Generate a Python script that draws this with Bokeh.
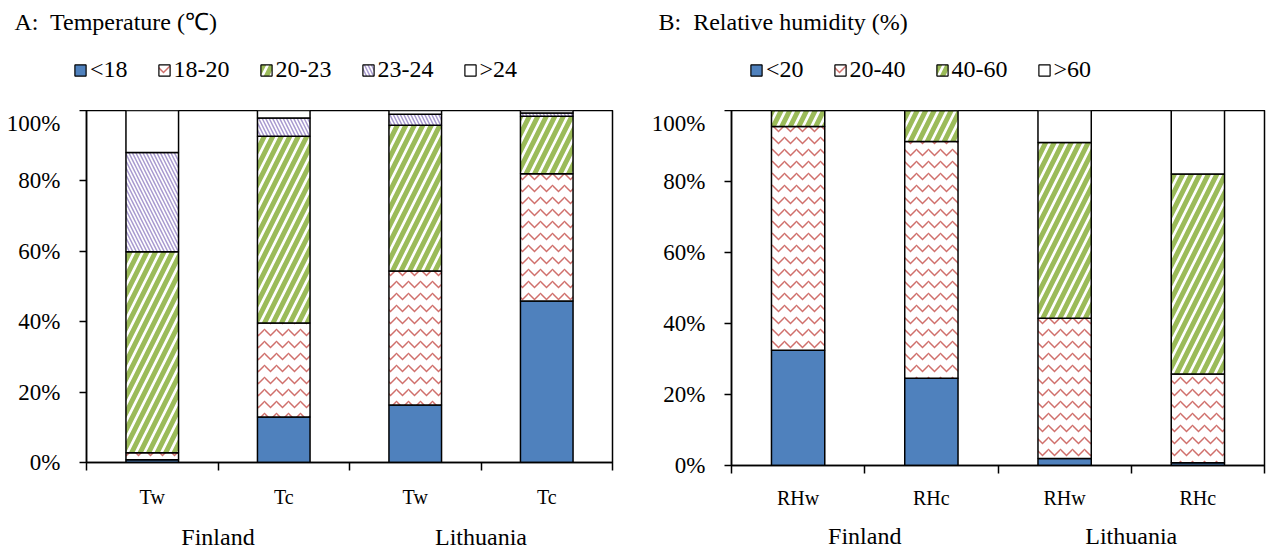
from bokeh.plotting import figure
from bokeh.models import (ColumnDataSource, Range1d, FixedTicker, PrintfTickFormatter,
                          LinearAxis, Legend, LegendItem, Label)
from bokeh.layouts import row, column
from bokeh.embed import file_html
from bokeh.resources import INLINE

# ---------------- data ----------------
positions = [0.5, 1.5, 2.5, 3.5]
countries = ["Finland", "Lithuania"]
country_pos = [1, 3]

temp_ticks = ["Tw", "Tc", "Tw", "Tc"]
temp_labels = ["<18", "18-20", "20-23", "23-24", ">24"]
temp_lt18 = [0.8, 12.9, 16.3, 45.9]
temp_18_20 = [2.0, 26.7, 38.1, 36.1]
temp_20_23 = [57.1, 53.1, 41.4, 16.4]
temp_23_24 = [28.2, 5.2, 3.1, 0.9]
temp_gt24 = [11.9, 2.1, 1.1, 0.7]

rh_ticks = ["RHw", "RHc", "RHw", "RHc"]
rh_labels = ["<20", "20-40", "40-60", ">60"]
rh_lt20 = [32.5, 24.6, 2.0, 0.8]
rh_20_40 = [63.0, 66.7, 39.5, 25.0]
rh_40_60 = [4.5, 8.7, 49.5, 56.3]
rh_gt60 = [0.0, 0.0, 9.0, 17.9]

FONT = "Liberation Serif"

BLUE = dict(fill_color="#4F81BD", hatch_pattern=None)
RED = dict(fill_color="white", hatch_pattern="horizontal_wave", hatch_color="#D0706C",
           hatch_scale=12, hatch_weight=1.5)
GREEN = dict(fill_color="white", hatch_pattern="right_diagonal_line", hatch_color="#9BBB59",
             hatch_scale=17, hatch_weight=5)
PURPLE = dict(fill_color="white", hatch_pattern="left_diagonal_line", hatch_color="#A99BD0",
              hatch_scale=7, hatch_weight=1.5)
WHITE = dict(fill_color="white", hatch_pattern=None)


def stack_sources(series):
    sources = []
    bottom = [0.0] * 4
    for vals in series:
        top = [b + v for b, v in zip(bottom, vals)]
        sources.append(ColumnDataSource(dict(x=positions, top=top, bottom=bottom)))
        bottom = top
    return sources


def make_header(title, title_x, labels, styles, sources, width, legend_x):
    # header holds title and legend; its ranges lie far away from the bars,
    # so its renderers (sharing the panel's data) only serve the legend swatches
    h = figure(width=width, height=110, x_range=Range1d(100, 101), y_range=Range1d(1000, 1001),
               output_backend="svg", toolbar_location=None, title_location=None,
               x_axis_location=None, y_axis_location=None, min_border=0)
    h.outline_line_color = None
    h.xgrid.visible = False
    h.ygrid.visible = False
    items = []
    for lab, st, src in zip(labels, styles, sources):
        r = h.vbar(x="x", top="top", bottom="bottom", width=0.4, source=src,
                   line_color="black", line_width=1.2, **st)
        items.append(LegendItem(label=lab, renderers=[r]))
    leg = Legend(items=items, orientation="horizontal", location=(legend_x, 27))
    leg.label_text_font = FONT
    leg.label_text_font_size = "24px"
    leg.label_text_color = "black"
    leg.glyph_width = 14
    leg.glyph_height = 14
    leg.label_standoff = 3
    leg.spacing = 29
    leg.padding = 0
    leg.margin = 0
    leg.border_line_color = None
    leg.background_fill_alpha = 0
    h.add_layout(leg, "center")
    h.add_layout(Label(x=title_x, y=89, x_units="screen", y_units="screen", text=title,
                       text_font=FONT, text_font_size="24px", text_color="black",
                       text_baseline="middle", text_align="left"))
    return h


def make_panel(sources, styles, ticks, fw, fh, bl, br, bb, x_standoff, c_standoff):
    p = figure(frame_width=fw, frame_height=fh, x_range=Range1d(0, 4), y_range=Range1d(0, 100),
               output_backend="svg", toolbar_location=None, title_location=None,
               min_border_left=bl, min_border_right=br, min_border_bottom=bb, min_border_top=0)
    p.outline_line_color = "black"
    p.outline_line_width = 1.5
    p.xgrid.visible = False
    p.ygrid.visible = False
    p.xaxis.visible = False

    for src, st in zip(sources, styles):
        p.vbar(x="x", top="top", bottom="bottom", width=0.4, source=src,
               line_color="black", line_width=1.5, **st)

    ya = p.yaxis[0]
    ya.ticker = FixedTicker(ticks=[0, 20, 40, 60, 80, 100])
    ya.formatter = PrintfTickFormatter(format="%d%%")
    ya.major_tick_in = 0
    ya.major_tick_out = 7
    ya.minor_tick_line_color = None
    ya.axis_line_width = 1.5
    ya.major_tick_line_width = 1.5
    ya.major_label_text_font = FONT
    ya.major_label_text_font_size = "23px"
    ya.major_label_text_color = "black"
    ya.major_label_standoff = 19

    xa = LinearAxis(ticker=FixedTicker(ticks=positions, minor_ticks=[0, 1, 2, 3, 4]),
                    major_label_overrides={pos: t for pos, t in zip(positions, ticks)})
    xa.major_tick_in = 0
    xa.major_tick_out = 0
    xa.minor_tick_in = 0
    xa.minor_tick_out = 8
    xa.minor_tick_line_width = 1.5
    xa.axis_line_width = 1.5
    xa.major_label_text_font = FONT
    xa.major_label_text_font_size = "20px"
    xa.major_label_text_color = "black"
    xa.major_label_standoff = x_standoff
    p.add_layout(xa, "below")

    ca = LinearAxis(ticker=FixedTicker(ticks=country_pos),
                    major_label_overrides={c: n for c, n in zip(country_pos, countries)})
    ca.axis_line_color = None
    ca.major_tick_line_color = None
    ca.minor_tick_line_color = None
    ca.major_label_text_font = FONT
    ca.major_label_text_font_size = "24px"
    ca.major_label_text_color = "black"
    ca.major_label_standoff = c_standoff
    p.add_layout(ca, "below")
    return p


styles_A = [BLUE, RED, GREEN, PURPLE, WHITE]
styles_B = [BLUE, RED, GREEN, WHITE]
src_A = stack_sources([temp_lt18, temp_18_20, temp_20_23, temp_23_24, temp_gt24])
src_B = stack_sources([rh_lt20, rh_20_40, rh_40_60, rh_gt60])

hA = make_header("A:\u00a0 Temperature (\u2103)", 14, temp_labels, styles_A, src_A, 640, 73)
hB = make_header("B:\u00a0 Relative humidity (%)", 18, rh_labels, styles_B, src_B, 627, 109)
pA = make_panel(src_A, styles_A, temp_ticks, 526, 352, 86, 28, 89, 15, 7)
pB = make_panel(src_B, styles_B, rh_ticks, 533, 355, 91, 3, 86, 13, 5)

layout = column(row(hA, hB), row(pA, pB))
open("out.html", "w").write(file_html(layout, INLINE))
